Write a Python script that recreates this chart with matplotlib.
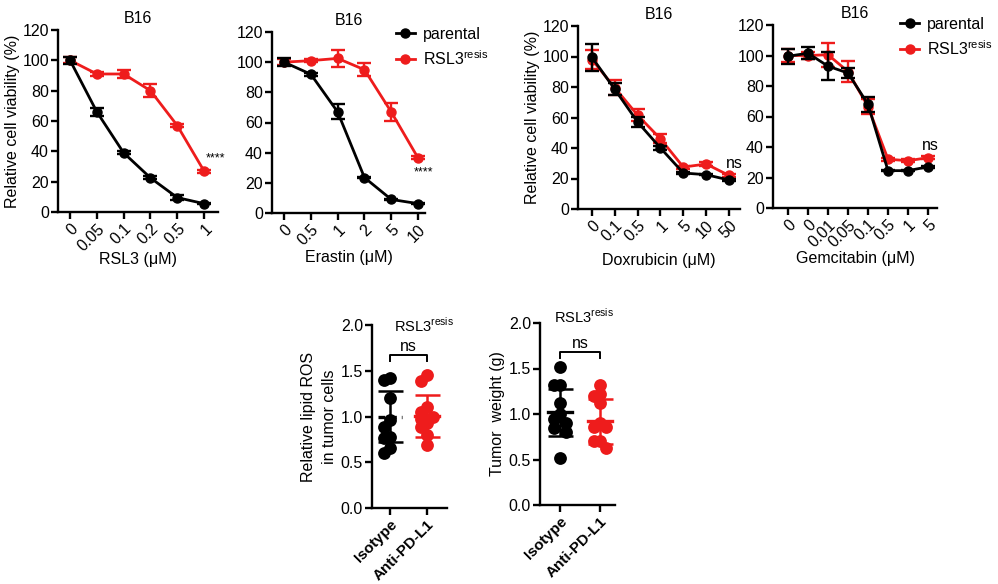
import numpy as np
import matplotlib
matplotlib.use("Agg")
import matplotlib.pyplot as plt
from matplotlib.lines import Line2D

plt.rcParams['font.family'] = ['Liberation Sans', 'DejaVu Sans']
plt.rcParams['mathtext.fontset'] = 'custom'
plt.rcParams['mathtext.rm'] = 'Liberation Sans'
plt.rcParams['font.size'] = 11

RED = '#ee1c1c'
BLK = '#000000'
RESIS = 'RSL3$^{\\mathrm{resis}}$'
FS = 11.5

# ---------------- data ----------------
rsl3_doses = ['0', '0.05', '0.1', '0.2', '0.5', '1']
rsl3_par = [100, 66, 39, 22.5, 9.5, 5.5]
rsl3_par_err = [2.5, 2.5, 1, 1, 1.5, 0.5]
rsl3_res = [100, 91, 91, 80, 57, 27]
rsl3_res_err = [2, 1, 2.5, 4.5, 1, 1]

era_doses = ['0', '0.5', '1', '2', '5', '10']
era_par = [100, 92, 67, 23.5, 9, 6.2]
era_par_err = [2.5, 1, 5, 0.5, 0.5, 0.5]
era_res = [100, 101, 102.5, 95, 67, 36.5]
era_res_err = [2, 1, 5.5, 4.5, 6, 1]

dox_doses = ['0', '0.1', '0.5', '1', '5', '10', '50']
dox_par = [99.5, 78.5, 57, 40, 23.6, 22.5, 19]
dox_par_err = [9, 4, 3.5, 1, 0.5, 0.5, 0.5]
dox_res = [98, 79.5, 61.5, 46, 27.5, 29.5, 22]
dox_res_err = [6, 5, 4, 3, 1, 1, 1]

gem_doses = ['0', '0', '0.01', '0.05', '0.1', '0.5', '1', '5']
gem_par = [99.5, 101.5, 93, 88.5, 68, 24.5, 24.5, 27]
gem_par_err = [5, 4, 9, 3, 5, 0.5, 0.5, 0.5]
gem_res = [100, 100, 100.5, 89.5, 66.5, 32, 31, 33]
gem_res_err = [4, 2, 8, 7, 5, 1, 1, 1]

groups = ['Isotype', 'Anti-PD-L1']
ros_iso = [1.42, 1.40, 1.20, 0.96, 0.89, 0.78, 0.76, 0.66, 0.60]
ros_anti = [1.45, 1.39, 1.10, 1.05, 1.00, 0.97, 0.93, 0.88, 0.80, 0.69]
ros_mean = [1.00, 1.01]
ros_sd = [0.28, 0.23]

wt_iso = [1.52, 1.32, 1.32, 1.12, 1.00, 0.95, 0.90, 0.85, 0.80, 0.52]
wt_anti = [1.32, 1.22, 1.20, 1.12, 0.90, 0.86, 0.86, 0.70, 0.70, 0.63]
wt_mean = [1.02, 0.92]
wt_sd = [0.26, 0.25]

# ---------------- figure ----------------
W, H = 998, 584
fig = plt.figure(figsize=(W / 100, H / 100), dpi=100)


def make_ax(l, r, t, b):
    return fig.add_axes([l / W, 1 - b / H, (r - l) / W, (b - t) / H])


def style(ax):
    for s in ['top', 'right']:
        ax.spines[s].set_visible(False)
    for s in ['left', 'bottom']:
        ax.spines[s].set_linewidth(1.7)
    ax.tick_params(width=1.7, length=5, labelsize=FS, pad=1.5)


def curve_panel(ax, doses, par, par_err, res, res_err, xlim, xlabel, title,
                ylabel=None, xpad=3):
    style(ax)
    x = np.arange(len(doses))
    ax.errorbar(x, res, yerr=res_err, color=RED, marker='o', ms=6.5, lw=2.0,
                capsize=5, capthick=1.7, elinewidth=1.7, zorder=3)
    ax.errorbar(x, par, yerr=par_err, color=BLK, marker='o', ms=6.5, lw=2.0,
                capsize=5, capthick=1.7, elinewidth=1.7, zorder=4)
    ax.set_xlim(*xlim)
    ax.set_ylim(0, 120)
    ax.set_yticks(range(0, 121, 20))
    ax.set_xticks(x)
    ax.set_xticklabels(doses, rotation=45, ha='right', rotation_mode='anchor')
    ax.set_xlabel(xlabel, fontsize=FS, labelpad=xpad)
    ax.set_title(title, fontsize=FS, pad=5)
    if ylabel:
        ax.set_ylabel(ylabel, fontsize=FS, labelpad=2)
    for sp in ax.spines.values():
        sp.set_clip_on(False)


ax1 = make_ax(58, 218, 30, 212)
curve_panel(ax1, rsl3_doses, rsl3_par, rsl3_par_err, rsl3_res, rsl3_res_err,
            (-0.45, 5.52), 'RSL3 (μM)', 'B16', 'Relative cell viability (%)', xpad=-1)
ax1.text(5.41, 35, '****', ha='center', va='center', fontsize=9)

ax2 = make_ax(272, 425, 32, 213)
curve_panel(ax2, era_doses, era_par, era_par_err, era_res, era_res_err,
            (-0.45, 5.26), 'Erastin (μM)', 'B16', xpad=1)
ax2.text(5.19, 27, '****', ha='center', va='center', fontsize=9)

ax3 = make_ax(578, 740, 26, 209)
curve_panel(ax3, dox_doses, dox_par, dox_par_err, dox_res, dox_res_err,
            (-0.61, 6.48), 'Doxrubicin (μM)', 'B16', 'Relative cell viability (%)', xpad=6)
ax3.text(6.22, 30, 'ns', ha='center', va='center', fontsize=FS)

ax4 = make_ax(773, 937, 25, 208)
curve_panel(ax4, gem_doses, gem_par, gem_par_err, gem_res, gem_res_err,
            (-0.75, 7.45), 'Gemcitabin (μM)', 'B16', xpad=1)
ax4.text(7.1, 41, 'ns', ha='center', va='center', fontsize=FS)

handles = [Line2D([], [], color=BLK, marker='o', ms=6.5, lw=2.0),
           Line2D([], [], color=RED, marker='o', ms=6.5, lw=2.0)]
for ax, bx, by in [(ax2, 0.768, 1.065), (ax4, 0.735, 1.08)]:
    ax.legend(handles, ['parental', RESIS], loc='upper left', bbox_to_anchor=(bx, by),
              frameon=False, handlelength=1.2, handletextpad=0.5, labelspacing=0.45,
              fontsize=FS, borderaxespad=0)


def swarm_offsets(vals, px_per_y, px_per_x, diam=8.0, step=6.0):
    placed = []
    offs = []
    for v in vals:
        vy = v * px_per_y
        best, best_d = 0.0, -1
        for cand in [0, -step, step]:
            d = min([np.hypot(cand - px, vy - py) for px, py in placed] or [1e9])
            if d >= diam:
                best = cand
                break
            if d > best_d:
                best, best_d = cand, d
        placed.append((best, vy))
        offs.append(best / px_per_x)
    return np.array(offs)


def dot_panel(ax, data, means, sds, xlim, ylabel, dashed_first, w_px, h_px,
              title_xy, bracket_y):
    style(ax)
    ax.set_xlim(*xlim)
    ax.set_ylim(0, 2.0)
    px_per_x = w_px / (xlim[1] - xlim[0])
    px_per_y = h_px / 2.0
    cols = [BLK, RED]
    for i, vals in enumerate(data):
        offs = swarm_offsets(vals, px_per_y, px_per_x)
        ax.scatter(i + offs, vals, s=85, color=cols[i], zorder=3, linewidths=0)
        hw = 12 / px_per_x
        ls = (0, (2.0, 1.5)) if (dashed_first and i == 0) else '-'
        ax.plot([i - hw, i + hw], [means[i], means[i]], color=cols[i], lw=2.4,
                ls=ls, zorder=4)
        ax.errorbar([i], [means[i]], yerr=[sds[i]], color=cols[i], capsize=9,
                    capthick=1.8, elinewidth=1.8, fmt='none', zorder=4)
    ax.set_xticks([0, 1])
    ax.set_xticklabels(groups, rotation=45, ha='right', rotation_mode='anchor',
                       fontweight='bold', fontsize=11)
    ax.set_yticks([0, 0.5, 1.0, 1.5, 2.0])
    ax.set_yticklabels(['0.0', '0.5', '1.0', '1.5', '2.0'])
    ax.set_ylabel(ylabel, fontsize=FS, labelpad=3, linespacing=1.45)
    ax.text(title_xy[0], title_xy[1], RESIS, transform=ax.transAxes,
            ha='center', va='center', fontsize=10.5)
    for sp in ax.spines.values():
        sp.set_clip_on(False)
    # significance bracket
    yb = bracket_y
    ax.plot([0, 0, 1, 1], [yb - 0.065, yb, yb, yb - 0.065], color=BLK, lw=1.4, clip_on=False)
    ax.text(0.5, yb + 0.1, 'ns', ha='center', va='center', fontsize=FS)


ax5 = make_ax(372, 447, 325, 508)
dot_panel(ax5, [ros_iso, ros_anti], ros_mean, ros_sd, (-0.49, 1.54),
          'Relative lipid ROS\nin tumor cells', True, 75, 183, (0.7, 1.0), 1.67)

ax6 = make_ax(540, 615, 323, 505)
dot_panel(ax6, [wt_iso, wt_anti], wt_mean, wt_sd, (-0.5, 1.375),
          'Tumor  weight (g)', False, 75, 182, (0.59, 1.035), 1.68)

fig.savefig('out.png', dpi=100)
